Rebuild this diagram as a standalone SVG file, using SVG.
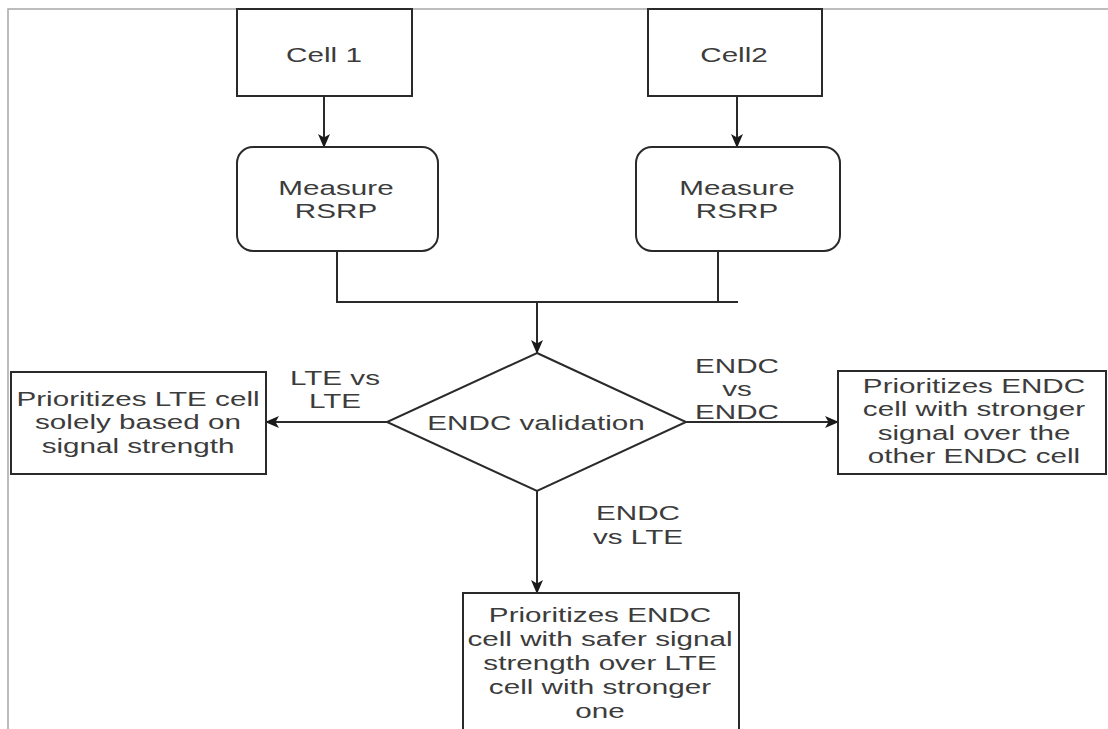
<svg xmlns="http://www.w3.org/2000/svg" width="1108" height="729" viewBox="0 0 1108 729">
<style>
.box{fill:#fff;stroke:#2a2a2a;stroke-width:2}
.ln{fill:none;stroke:#2a2a2a;stroke-width:2}
.frame{fill:none;stroke:#a8a8a8;stroke-width:1.5}
text{font-family:"Liberation Sans",Arial,sans-serif;font-size:19.5px;fill:#3c3c3c;text-anchor:middle}
</style>
<defs>
<marker id="arr" markerUnits="userSpaceOnUse" markerWidth="14" markerHeight="12" viewBox="0 0 14 12" refX="13" refY="6" orient="auto">
<path d="M0,0 L14,6 L0,12 L3.5,6 z" fill="#1a1a1a"/>
</marker>
</defs>
<rect width="1108" height="729" fill="#fff"/>
<path class="frame" d="M8,729 V9 H1108"/>
<g id="connectors">
<line class="ln" x1="324" y1="96" x2="324" y2="147" marker-end="url(#arr)"/>
<line class="ln" x1="737" y1="96" x2="737" y2="147" marker-end="url(#arr)"/>
<path class="ln" d="M337,251 V302 H738 M718,251 V302"/>
<line class="ln" x1="537" y1="302" x2="537" y2="353" marker-end="url(#arr)"/>
<line class="ln" x1="387" y1="422" x2="266" y2="422" marker-end="url(#arr)"/>
<line class="ln" x1="686" y1="422" x2="838" y2="422" marker-end="url(#arr)"/>
<line class="ln" x1="537" y1="491" x2="537" y2="593" marker-end="url(#arr)"/>
<text transform="translate(335,385) scale(1.52,1)"><tspan x="0">LTE vs</tspan><tspan x="0" dy="23">LTE</tspan></text>
<text transform="translate(737,373) scale(1.52,1)"><tspan x="0">ENDC</tspan><tspan x="0" dy="23">vs</tspan><tspan x="0" dy="23">ENDC</tspan></text>
<text transform="translate(638,520) scale(1.52,1)"><tspan x="0">ENDC</tspan><tspan x="0" dy="24">vs LTE</tspan></text>
</g>
<g id="cell1">
<rect class="box" x="237" y="9" width="175" height="87"/>
<text transform="translate(324,62) scale(1.52,1)">Cell 1</text>
</g>
<g id="cell2">
<rect class="box" x="648" y="9" width="174" height="87"/>
<text transform="translate(734,62) scale(1.52,1)">Cell2</text>
</g>
<g id="measure1">
<rect class="box" x="237" y="147" width="201" height="104" rx="16"/>
<text transform="translate(336,195) scale(1.52,1)"><tspan x="0">Measure</tspan><tspan x="0" dy="23">RSRP</tspan></text>
</g>
<g id="measure2">
<rect class="box" x="636" y="147" width="204" height="104" rx="16"/>
<text transform="translate(737,195) scale(1.52,1)"><tspan x="0">Measure</tspan><tspan x="0" dy="23">RSRP</tspan></text>
</g>
<g id="decision">
<polygon class="box" points="537,353 686,422 537,491 387,422"/>
<text transform="translate(536,430) scale(1.52,1)">ENDC validation</text>
</g>
<g id="lte-box">
<rect class="box" x="11" y="372" width="255" height="102"/>
<text transform="translate(138,406) scale(1.52,1)"><tspan x="0">Prioritizes LTE cell</tspan><tspan x="0" dy="23.5">solely based on</tspan><tspan x="0" dy="23.5">signal strength</tspan></text>
</g>
<g id="endc-box">
<rect class="box" x="838" y="371" width="268" height="103"/>
<text transform="translate(974,393) scale(1.52,1)"><tspan x="0">Prioritizes ENDC</tspan><tspan x="0" dy="23.5">cell with stronger</tspan><tspan x="0" dy="23.5">signal over the</tspan><tspan x="0" dy="23.5">other ENDC cell</tspan></text>
</g>
<g id="endc-lte-box">
<rect class="box" x="463" y="593" width="276" height="140"/>
<text transform="translate(600,622) scale(1.52,1)"><tspan x="0">Prioritizes ENDC</tspan><tspan x="0" dy="24">cell with safer signal</tspan><tspan x="0" dy="24">strength over LTE</tspan><tspan x="0" dy="24">cell with stronger</tspan><tspan x="0" dy="24">one</tspan></text>
</g>
</svg>
